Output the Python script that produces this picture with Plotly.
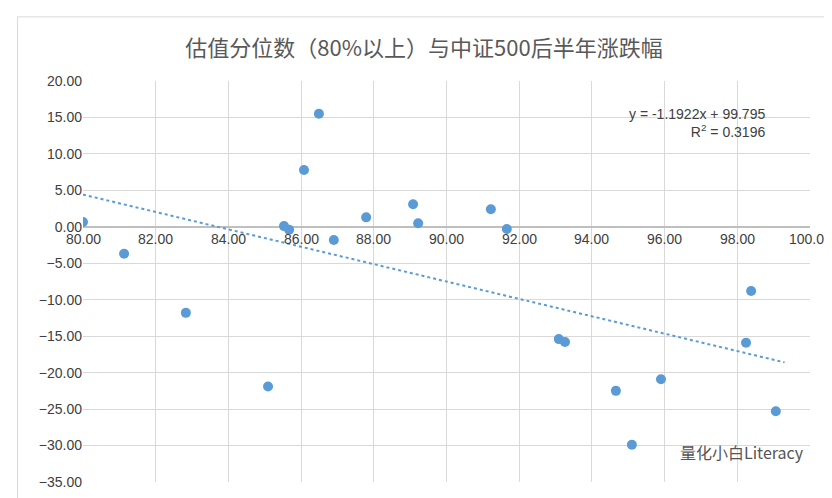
import numpy as np
import plotly.graph_objects as go

# valuation percentile vs CSI500 next-half-year return
pct = [80.0, 81.13, 82.83, 85.09, 85.53, 85.67, 86.08, 86.49, 86.9, 87.79, 89.08,
       89.22, 91.22, 91.66, 93.09, 93.26, 94.66, 95.1, 95.9, 98.24, 98.38, 99.06]
ret = [0.66, -3.7, -11.8, -21.9, 0.1, -0.4, 7.8, 15.5, -1.8, 1.3, 3.1,
       0.5, 2.4, -0.3, -15.4, -15.8, -22.5, -29.9, -20.9, -15.9, -8.8, -25.3]
slope, intercept = -1.1922, 99.795
x_ticks = [80, 82, 84, 86, 88, 90, 92, 94, 96, 98, 100]

trend_x = np.array([80.0, 99.3])
trend_y = slope * trend_x + intercept

fig = go.Figure()
fig.add_trace(go.Scatter(x=trend_x, y=trend_y, mode="lines",
                         line=dict(color="#5b9bd5", width=2, dash="dot")))
fig.add_trace(go.Scatter(x=pct, y=ret, mode="markers",
                         marker=dict(color="#5b9bd5", size=10)))

for t in x_ticks:
    fig.add_annotation(x=t, y=0, text=f"{t:.2f}", showarrow=False, yanchor="top",
                       yshift=-2, font=dict(size=14, color="#404040"))

fig.add_annotation(x=96.9, y=14.2, xanchor="center", showarrow=False, align="right",
                   text="y = -1.1922x + 99.795<br>R<sup>2</sup> = 0.3196",
                   font=dict(size=14, color="#404040"))
fig.add_annotation(x=0.995, y=0.04, xref="paper", yref="paper", xanchor="right",
                   yanchor="bottom", showarrow=False, text="量化小白Literacy",
                   font=dict(size=16, color="#555555", family="Noto Sans CJK SC"))

fig.update_layout(
    width=832, height=498, showlegend=False,
    margin=dict(l=75, r=30, t=73, b=24, autoexpand=False),
    paper_bgcolor="white", plot_bgcolor="white",
    title=dict(text="估值分位数（80%以上）与中证500后半年涨跌幅", x=0.5, y=0.935,
               font=dict(size=22, color="#595959", family="Noto Sans CJK SC")),
    font=dict(family="Liberation Sans, Arial", color="#404040"),
    xaxis=dict(range=[80, 100], tickvals=x_ticks, showticklabels=False,
               showgrid=True, gridcolor="#d9d9d9", zeroline=False),
    yaxis=dict(range=[-35, 20], dtick=5, tickformat=".2f", showgrid=True,
               gridcolor="#d9d9d9", zeroline=True, zerolinecolor="#bfbfbf",
               tickfont=dict(size=14)),
    shapes=[dict(type="rect", xref="paper", yref="paper", x0=-0.09, x1=1.035,
                 y0=-0.05, y1=1.16, line=dict(color="#d9d9d9", width=1))],
)
fig.write_html("out.html")
